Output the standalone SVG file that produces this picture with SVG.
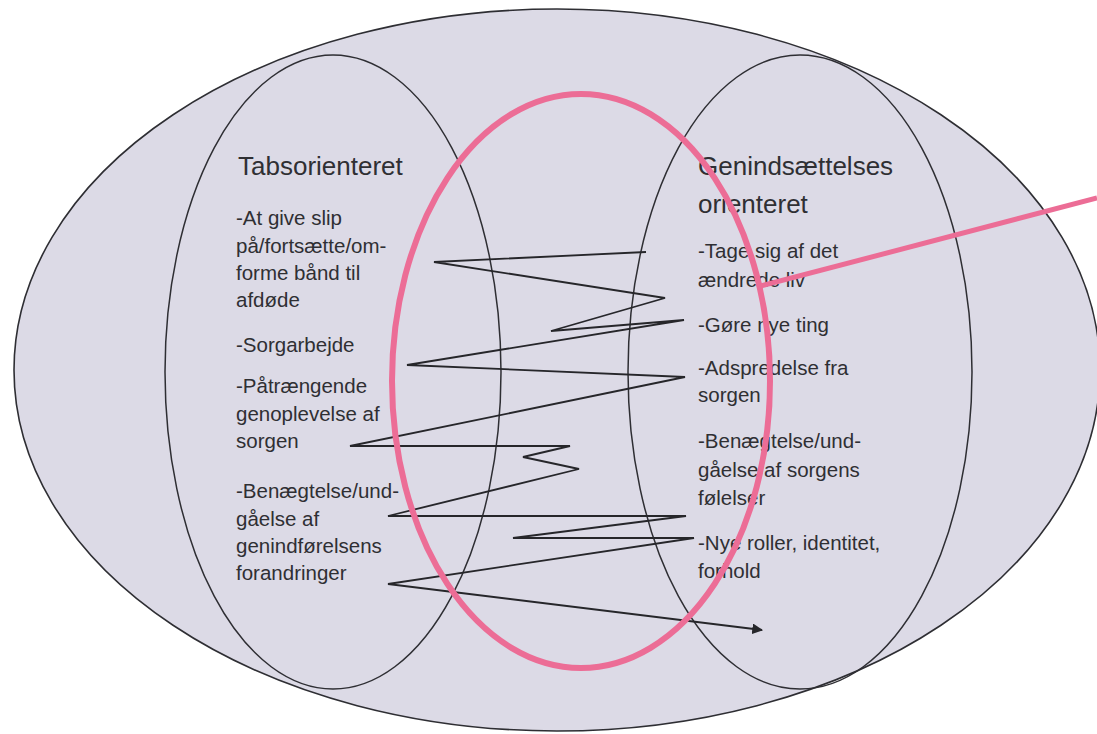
<svg xmlns="http://www.w3.org/2000/svg" width="1097" height="734" viewBox="0 0 1097 734">
<defs>
<style>
.shape{fill:#dcdae6;stroke:#2e2e33;stroke-width:1.6}
.inner{fill:none;stroke:#2e2e33;stroke-width:1.5}
.pink{fill:none;stroke:#ec6d96;stroke-width:6}
.zig{fill:none;stroke:#26262a;stroke-width:1.8;stroke-linejoin:miter}
.title{font-family:"Liberation Sans",Arial,sans-serif;font-size:26px;fill:#2f2f33}
.body{font-family:"Liberation Sans",Arial,sans-serif;font-size:20.5px;fill:#2f2f33}
</style>
<marker id="arr" viewBox="0 0 10 10" refX="9" refY="5" markerWidth="6" markerHeight="6" orient="auto" markerUnits="strokeWidth">
<path d="M0,0 L10,5 L0,10 z" fill="#26262a"/>
</marker>
</defs>
<rect width="1097" height="734" fill="#ffffff"/>
<g id="outer">
<ellipse class="shape" cx="557" cy="370" rx="543" ry="361"/>
</g>
<g id="tabsorienteret">
<ellipse class="inner" cx="333" cy="372" rx="168" ry="317"/>
<text class="title" x="238" y="175">Tabsorienteret</text>
<text class="body" x="236" y="225">-At give slip</text>
<text class="body" x="236" y="253">på/fortsætte/om-</text>
<text class="body" x="236" y="280">forme bånd til</text>
<text class="body" x="236" y="307">afdøde</text>
<text class="body" x="236" y="352">-Sorgarbejde</text>
<text class="body" x="236" y="393">-Påtrængende</text>
<text class="body" x="236" y="421">genoplevelse af</text>
<text class="body" x="236" y="448">sorgen</text>
<text class="body" x="236" y="498">-Benægtelse/und-</text>
<text class="body" x="236" y="526">gåelse af</text>
<text class="body" x="236" y="553">genindførelsens</text>
<text class="body" x="236" y="580">forandringer</text>
</g>
<g id="genindsaettelses">
<ellipse class="inner" cx="800" cy="372" rx="172" ry="317"/>
<text class="title" x="698" y="175">Genindsættelses</text>
<text class="title" x="698" y="213">orienteret</text>
<text class="body" x="698" y="258">-Tage sig af det</text>
<text class="body" x="698" y="287">ændrede liv</text>
<text class="body" x="698" y="332">-Gøre nye ting</text>
<text class="body" x="698" y="375">-Adspredelse fra</text>
<text class="body" x="698" y="402">sorgen</text>
<text class="body" x="698" y="448">-Benægtelse/und-</text>
<text class="body" x="698" y="477">gåelse af sorgens</text>
<text class="body" x="698" y="505">følelser</text>
<text class="body" x="698" y="550">-Nye roller, identitet,</text>
<text class="body" x="698" y="578">forhold</text>
</g>
<g id="connectors">
<polyline class="zig" marker-end="url(#arr)" points="646,252 434,262 665,298 551,331 684,320 407,365 685,377 350,446 570,446 523,457 579,469 388,516 686,516 513,538 694,538 388,584 762,630"/>
</g>
<g id="highlight">
<ellipse class="pink" cx="581" cy="381" rx="189" ry="287"/>
<line x1="757" y1="287" x2="1097" y2="198" stroke="#ec6d96" stroke-width="5"/>
</g>
</svg>
